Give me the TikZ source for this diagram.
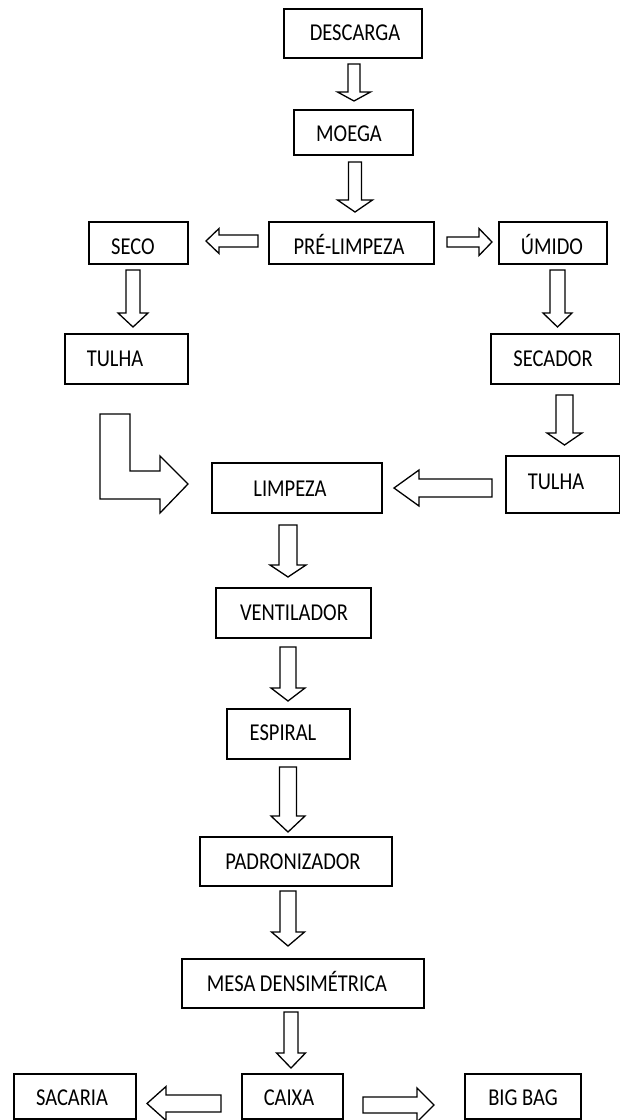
\documentclass[tikz,border=0pt]{standalone}
\usepackage{graphicx}
\usepackage{fontspec}
\setmainfont{Carlito}
\newcommand\tx[1]{\scalebox{1}[1.18]{#1}}
\begin{document}
\begin{tikzpicture}[x=1pt,y=-1pt,
  box/.style={draw=black, line width=1.5pt, inner sep=0pt, fill=white},
  lbl/.style={font=\fontsize{20.5}{22}\selectfont, inner sep=0pt, text height=15.5pt, text depth=0pt},
  blk/.style={draw=black, line width=1.3pt, fill=white, line join=miter}]
\clip (0,0) rectangle (620,1120);
\fill[white] (0,0) rectangle (620,1120);
\newcommand\bx[5]{\node[box, minimum width={(#3)-(#2)}, minimum height={(#5)-(#4)}] (#1) at ({((#2)+(#3))/2},{((#4)+(#5))/2}) {};}
\newcommand\darr[6]{\draw[blk] ({#1-#5},#2) -- ({#1+#5},#2) -- ({#1+#5},#3) -- ({#1+#6},#3) -- (#1,#4) -- ({#1-#6},#3) -- ({#1-#5},#3) -- cycle;}
\newcommand\harr[6]{\draw[blk] (#2,{#1-#5}) -- (#3,{#1-#5}) -- (#3,{#1-#6}) -- (#4,#1) -- (#3,{#1+#6}) -- (#3,{#1+#5}) -- (#2,{#1+#5}) -- cycle;}
% boxes
\bx{descarga}{284}{422}{9}{58}
\bx{moega}{294}{413}{110}{155}
\bx{prelimpeza}{269}{434}{222}{264}
\bx{seco}{89}{188}{222}{264}
\bx{umido}{499}{607}{222}{264}
\bx{tulhaL}{65}{188}{334}{384}
\bx{secador}{491}{620}{334}{384}
\bx{tulhaR}{506}{620}{456}{513}
\bx{limpeza}{212}{382}{463}{513}
\bx{ventilador}{216}{371}{588}{638}
\bx{espiral}{227}{350}{709}{759}
\bx{padronizador}{200}{392}{837}{886}
\bx{mesa}{182}{424}{959}{1008}
\bx{sacaria}{14}{136}{1074}{1119}
\bx{caixa}{242}{343}{1074}{1119}
\bx{bigbag}{465}{581}{1074}{1119}
% labels
\node[lbl] (t-descarga) at (355,33) {\tx{DESCARGA}};
\node[lbl] (t-moega) at (349,134) {\tx{MOEGA}};
\node[lbl] (t-prelimpeza) at (349,247) {\tx{PRÉ-LIMPEZA}};
\node[lbl] (t-seco) at (133,247) {\tx{SECO}};
\node[lbl] (t-umido) at (552,247) {\tx{ÚMIDO}};
\node[lbl] (t-tulhaL) at (115,359) {\tx{TULHA}};
\node[lbl] (t-secador) at (553,359) {\tx{SECADOR}};
\node[lbl] (t-tulhaR) at (556,482) {\tx{TULHA}};
\node[lbl] (t-limpeza) at (290,489) {\tx{LIMPEZA}};
\node[lbl] (t-ventilador) at (294,613) {\tx{VENTILADOR}};
\node[lbl] (t-espiral) at (283,733) {\tx{ESPIRAL}};
\node[lbl] (t-padronizador) at (293,862) {\tx{PADRONIZADOR}};
\node[lbl] (t-mesa) at (297,984) {\tx{MESA DENSIMÉTRICA}};
\node[lbl] (t-sacaria) at (72,1098) {\tx{SACARIA}};
\node[lbl] (t-caixa) at (289,1098) {\tx{CAIXA}};
\node[lbl] (t-bigbag) at (523,1098) {\tx{BIG BAG}};
% down arrows
\darr{354}{64}{92}{101}{6}{16.5}
\darr{355}{162}{200}{212}{6.5}{17.5}
\darr{133}{270}{313}{327}{7}{15}
\darr{557.5}{270}{313}{327}{7.5}{14.5}
\darr{564.5}{395}{433}{445}{8.5}{17.5}
\darr{288}{525}{565}{577}{9}{18}
\darr{288}{647}{688}{701}{8}{17}
\darr{288}{767}{816}{832}{8.5}{17}
\darr{288}{891}{932}{946}{8}{16.5}
\darr{291}{1012}{1053}{1068}{7}{14.5}
% horizontal arrows
\harr{241}{258}{219}{206}{6}{12.5}
\harr{242}{447}{479}{492}{5}{13.5}
\harr{488}{492}{419}{394}{9}{18}
\harr{1103.5}{221}{166}{147}{8.5}{17}
\harr{1105}{363}{417}{434}{8}{17}
% bent arrow
\draw[blk] (100,414) -- (130,414) -- (130,471) -- (160,471) -- (160,456) -- (188,484) -- (160,513) -- (160,499) -- (100,499) -- cycle;
\end{tikzpicture}
\end{document}
